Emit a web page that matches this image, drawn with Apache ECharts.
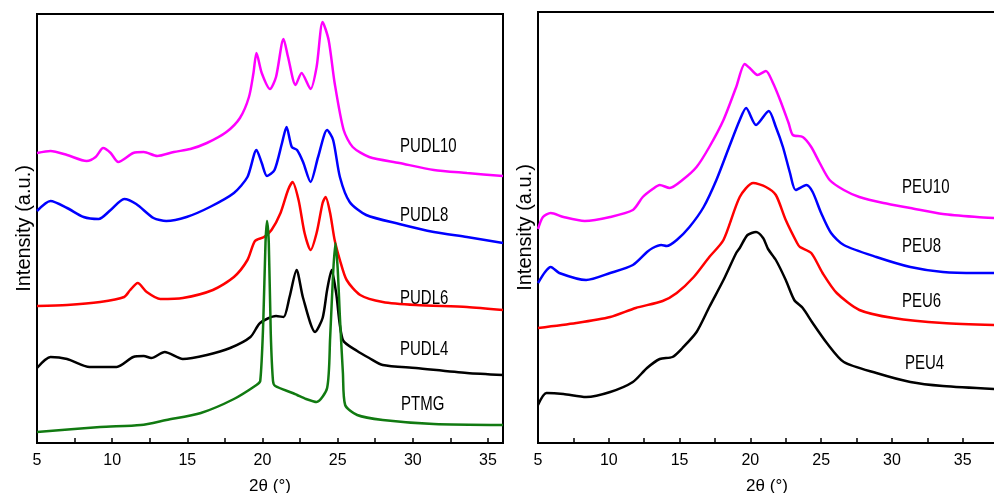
<!DOCTYPE html>
<html lang="en">
<head>
    <meta charset="UTF-8">
    <title>xrd-patterns</title>
    <script src="https://cdn.jsdelivr.net/npm/echarts@6/dist/echarts.min.js"></script>
    <style>
        html, body {
            margin: 0;
            padding: 0;
            background: #fff;
        }
        #main {
            width: 994px;
            height: 493px;
        }
    </style>
</head>
<body>
<div id="main"></div>
<script>
    // 左图 PUDL 系列  [2θ, 强度(a.u.)]
    let pudl10 = [[5.0, 290], [5.9, 292], [7.0, 288], [8.3, 282], [8.9, 286], [9.4, 295], [9.9, 290], [10.4, 281],
        [11.4, 290], [12.1, 291], [13.0, 287], [14.1, 291], [15.2, 294], [16.3, 300], [17.6, 311], [18.5, 325],
        [19.1, 346], [19.4, 370], [19.6, 390], [19.95, 370], [20.5, 354], [20.9, 366], [21.4, 404], [21.7, 386],
        [22.2, 358], [22.6, 370], [23.2, 354], [23.6, 376], [24.0, 421], [24.4, 403], [24.8, 360], [25.4, 313],
        [26.0, 296], [27.1, 286], [29.1, 280], [31.4, 273], [33.6, 270], [36.0, 267]];
    let pudl8 = [[5.0, 232], [5.9, 242], [7.0, 235], [8.1, 226], [9.1, 224], [9.9, 233], [10.8, 244], [11.6, 239],
        [12.75, 225], [13.6, 222], [14.95, 226], [16.5, 236], [18.1, 250], [19.0, 266], [19.6, 293], [19.95, 280],
        [20.3, 267], [20.8, 273], [21.3, 300], [21.6, 316], [21.95, 296], [22.3, 293], [22.7, 281], [23.2, 261],
        [23.7, 286], [24.3, 313], [24.7, 303], [25.15, 266], [25.8, 241], [26.9, 228], [29.1, 219], [31.4, 211],
        [33.6, 206], [36.0, 200]];
    let pudl6 = [[5.0, 137], [7.0, 138], [9.2, 141], [10.8, 146], [11.2, 153], [11.7, 160], [12.3, 151], [13.2, 144],
        [14.7, 145], [16.7, 153], [18.1, 166], [19.0, 183], [19.5, 202], [20.1, 206], [20.6, 213], [21.2, 230],
        [21.7, 253], [22.0, 261], [22.4, 243], [22.8, 210], [23.2, 193], [23.6, 210], [24.0, 240], [24.2, 246],
        [24.5, 230], [24.8, 203], [25.15, 183], [25.6, 163], [26.5, 148], [28.0, 141], [30.2, 138], [33.6, 136],
        [36.0, 133]];
    let pudl4 = [[5.0, 75], [5.9, 86], [7.0, 84], [8.5, 76], [10.3, 76], [11.4, 86], [12.1, 87], [12.6, 85],
        [13.5, 91], [14.7, 84], [16.3, 88], [17.85, 95], [19.2, 106], [19.84, 120], [20.9, 127], [21.4, 126],
        [21.8, 146], [22.27, 173], [22.7, 145], [23.5, 111], [24.0, 125], [24.3, 153], [24.6, 173], [24.9, 150],
        [25.35, 103], [26.3, 92], [27.1, 85], [28.0, 78], [30.2, 75], [33.6, 70], [36.0, 68]];
    let ptmg = [[5.0, 11], [9.2, 16], [11.9, 18], [13.6, 23], [15.9, 30], [18.1, 44], [19.6, 58], [19.85, 62],
        [20.05, 120], [20.2, 200], [20.3, 222], [20.42, 200], [20.55, 110], [20.7, 62], [20.85, 57], [22.0, 50],
        [22.3, 48], [22.9, 44], [23.6, 41], [24.3, 55], [24.5, 105], [24.7, 170], [24.85, 200], [25.0, 175],
        [25.15, 126], [25.35, 70], [25.5, 38], [26.3, 28], [28.0, 23], [31.4, 19], [36.0, 18]];

    // 右图 PEU 系列
    let peu10 = [[5.0, 214], [5.35, 226], [5.9, 230], [6.8, 226], [8.3, 222], [10.1, 226], [11.7, 233], [12.4, 246],
        [13.1, 254], [13.6, 258], [14.3, 255], [15.2, 263], [16.2, 276], [17.1, 296], [18.1, 323], [19.0, 356],
        [19.6, 379], [19.95, 375], [20.5, 368], [21.1, 372], [21.6, 360], [22.1, 343], [22.7, 320], [23.0, 308],
        [23.7, 306], [24.3, 296], [24.9, 280], [25.6, 263], [26.6, 253], [27.7, 246], [29.4, 240], [31.3, 235],
        [33.6, 229], [36.0, 226], [37.35, 225]];
    let peu8 = [[5.0, 160], [5.5, 171], [5.9, 176], [6.5, 170], [8.4, 163], [10.1, 170], [11.7, 178], [12.7, 191],
        [13.1, 195], [13.7, 198], [14.1, 197], [14.8, 203], [15.7, 216], [16.7, 236], [17.6, 263], [18.5, 296],
        [19.25, 323], [19.7, 335], [20.4, 318], [21.3, 332], [21.8, 316], [22.3, 296], [22.8, 270], [23.2, 253],
        [23.96, 258], [24.4, 251], [25.0, 230], [25.7, 210], [26.6, 198], [28.9, 186], [31.3, 176], [33.6, 171],
        [36.0, 170], [37.35, 170]];
    let peu6 = [[5.0, 115], [7.7, 120], [10.1, 126], [11.9, 135], [13.8, 142], [14.8, 150], [16.0, 166], [17.1, 186],
        [18.1, 203], [19.25, 246], [20.2, 260], [21.1, 256], [21.8, 248], [22.5, 223], [23.3, 200], [23.5, 196],
        [24.3, 190], [25.1, 170], [26.1, 150], [27.7, 133], [30.1, 125], [33.6, 120], [37.35, 118]];
    let peu4 = [[5.0, 38], [5.6, 50], [6.8, 49], [8.4, 46], [10.1, 51], [11.7, 61], [12.7, 75], [13.6, 84],
        [14.5, 86], [15.2, 95], [16.2, 111], [17.1, 136], [18.1, 163], [19.0, 190], [19.25, 195], [19.8, 208],
        [20.4, 211], [20.9, 205], [21.25, 194], [21.8, 183], [22.5, 163], [23.1, 143], [23.7, 135], [24.4, 120],
        [25.4, 100], [26.6, 81], [28.9, 70], [31.3, 61], [33.6, 57], [37.35, 54]];

    let xTicks = [5, 10, 15, 20, 25, 30, 35];
    let leftNames = ['PUDL10', 'PUDL8', 'PUDL6', 'PUDL4', 'PTMG'];
    let rightNames = ['PEU10', 'PEU8', 'PEU6', 'PEU4'];

    let font = '"Liberation Sans", Arial, sans-serif';

    function xAxisOf(gridIndex, max) {
        return {
            type: 'value',
            gridIndex: gridIndex,
            min: 5,
            max: max,
            interval: 5,
            name: '2θ (°)',
            nameLocation: 'middle',
            nameGap: 35,
            nameTextStyle: {color: '#000', fontSize: 17, fontFamily: font},
            axisLine: {show: true, lineStyle: {color: '#000', width: 2}},
            axisTick: {show: true, inside: true, length: 5, lineStyle: {color: '#000', width: 1.5}},
            minorTick: {show: true, splitNumber: 2, length: 5, lineStyle: {color: '#000', width: 1.5}},
            splitLine: {show: false},
            axisLabel: {
                color: '#000', fontSize: 16, fontFamily: font, margin: 10,
                showMaxLabel: false,
                formatter: function (v) {
                    return xTicks.indexOf(v) >= 0 ? String(v) : '';
                }
            }
        };
    }

    function yAxisOf(gridIndex, max) {
        return {
            type: 'value',
            gridIndex: gridIndex,
            min: 0,
            max: max,
            name: 'Intensity (a.u.)',
            nameLocation: 'middle',
            nameGap: 3,
            nameTextStyle: {color: '#000', fontSize: 20, fontFamily: font},
            axisLine: {show: true, lineStyle: {color: '#000', width: 2}},
            axisTick: {show: false},
            axisLabel: {show: false},
            splitLine: {show: false}
        };
    }

    function lineSeries(name, data, color, idx) {
        return {
            name: name,
            type: 'line',
            xAxisIndex: idx,
            yAxisIndex: idx,
            data: data,
            showSymbol: false,
            smooth: 0.25,
            lineStyle: {color: color, width: 2.5},
            itemStyle: {color: color},
            animation: false
        };
    }

    // 曲线旁的样品名，原图文字略被纵向拉伸
    function label(text, x, y) {
        return {
            type: 'text',
            x: x,
            y: y,
            scaleY: 1.3,
            style: {
                text: text, fill: '#000', font: '15px ' + font,
                textAlign: 'left', textVerticalAlign: 'middle'
            }
        };
    }

    let option = {
        backgroundColor: '#fff',
        animation: false,
        grid: [
            {left: 37, right: 491, top: 14, bottom: 50, show: true, borderColor: '#000', borderWidth: 2,
                containLabel: false, outerBoundsMode: 'none'},
            {left: 538, right: -2, top: 12, bottom: 50, show: true, borderColor: '#000', borderWidth: 2,
                containLabel: false, outerBoundsMode: 'none'}
        ],
        xAxis: [xAxisOf(0, 36), xAxisOf(1, 37.35)],
        yAxis: [yAxisOf(0, 429), yAxisOf(1, 431)],
        series: [
            lineSeries('PUDL10', pudl10, '#ff00ff', 0),
            lineSeries('PUDL8', pudl8, '#0000ff', 0),
            lineSeries('PUDL6', pudl6, '#ff0000', 0),
            lineSeries('PUDL4', pudl4, '#000000', 0),
            lineSeries('PTMG', ptmg, '#117a11', 0),
            lineSeries('PEU10', peu10, '#ff00ff', 1),
            lineSeries('PEU8', peu8, '#0000ff', 1),
            lineSeries('PEU6', peu6, '#ff0000', 1),
            lineSeries('PEU4', peu4, '#000000', 1)
        ],
        graphic: [
            label(leftNames[0], 400, 147),
            label(leftNames[1], 400, 216),
            label(leftNames[2], 400, 299),
            label(leftNames[3], 400, 350),
            label(leftNames[4], 401, 405),
            label(rightNames[0], 902, 188),
            label(rightNames[1], 902, 247),
            label(rightNames[2], 902, 302),
            label(rightNames[3], 905, 364)
        ]
    };

    let myChart = echarts.init(document.getElementById('main'), null, {renderer: 'canvas'});
    myChart.setOption(option);
</script>
</body>
</html>
